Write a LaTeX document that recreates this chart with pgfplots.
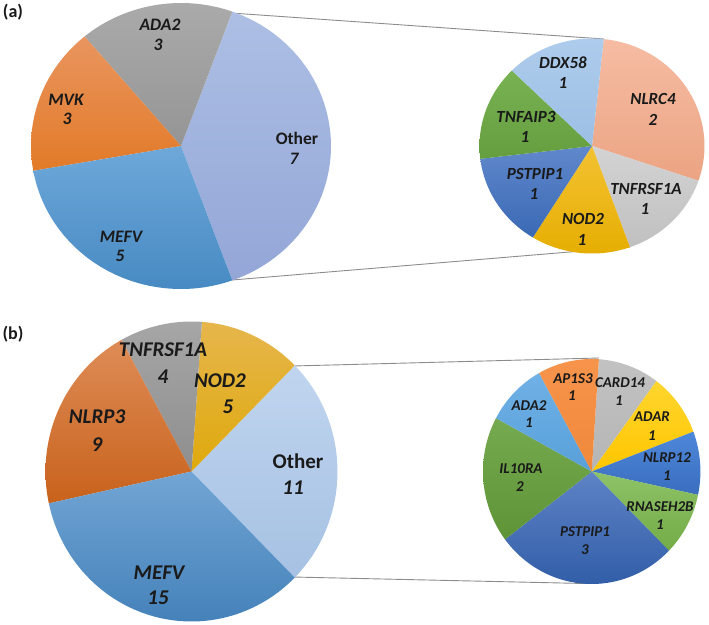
\documentclass[border=0pt]{standalone}
\usepackage{pgfplots}
\pgfplotsset{compat=1.18}
\usepackage{fontspec}
\setmainfont{Carlito}
\definecolor{txt}{HTML}{1A1A1A}
\definecolor{conn}{HTML}{8C8C8C}
% helper: define top/bottom colour pair
\newcommand{\cpair}[3]{\definecolor{#1t}{HTML}{#2}\definecolor{#1b}{HTML}{#3}}
\cpair{aOther}{ADBFE4}{93A6D7}
\cpair{aADA}{AAAAAA}{959595}
\cpair{aMVK}{E9955F}{E27A28}
\cpair{aMEFV}{6EA8D9}{478AC3}
\cpair{sNLRC}{F6BCA3}{EBA483}
\cpair{sTNFR}{D3D3D3}{C0C0C0}
\cpair{sNOD}{F3C233}{E6AE02}
\cpair{sPST}{6088CC}{3A69B4}
\cpair{sTNFA}{79B252}{649E3E}
\cpair{sDDX}{AECCEC}{9CBFE4}
\cpair{bOther}{C0D5EF}{A6C1E3}
\cpair{bNOD}{E6B64C}{DFA90C}
\cpair{bTNFR}{A6A6A6}{8E8E8E}
\cpair{bNLRP}{DE8C57}{C8621C}
\cpair{bMEFV}{72A5D4}{4582BA}
\cpair{tCARD}{C2C2C2}{B5B5B5}
\cpair{tADAR}{FFD52E}{FFC600}
\cpair{tNLRP}{4E88DA}{3A6DBE}
\cpair{tRNAS}{8EC267}{73AC47}
\cpair{tPST}{5E83C6}{325EA8}
\cpair{tIL}{76AA50}{5E9336}
\cpair{tADA}{70B1E6}{58A0DA}
\cpair{tAP}{F7944C}{EF883A}
% slice: start angle, end angle, colour name
\newcommand{\slice}[3]{\addplot[draw=none, top color=#3t, bottom color=#3b, domain=#1:#2, samples=60, variable=\t] ({cos(\t)},{sin(\t)}) -- (axis cs:0,0) -- cycle;}
\pgfplotsset{pie/.style={hide axis, clip=false, xmin=-1, xmax=1, ymin=-1, ymax=1, anchor=center}}
\newcommand{\lab}[4]{\node[text=txt, font={\fontsize{#4}{#4}\selectfont\bfseries\itshape}, inner sep=0pt] at (#1bp,-#2bp) {#3};}
\newcommand{\labu}[4]{\node[text=txt, font={\fontsize{#4}{#4}\selectfont\bfseries}, inner sep=0pt] at (#1bp,-#2bp) {#3};}
\begin{document}
\begin{tikzpicture}
\useasboundingbox (0,0) rectangle (709bp,-625bp);
% connectors
\draw[conn, line width=0.9bp] (231bp,-13bp) -- (603.8bp,-39bp);
\draw[conn, line width=0.9bp] (232bp,-280bp) -- (630bp,-247bp);
\draw[conn, line width=0.9bp] (293bp,-366bp) -- (599bp,-358bp);
\draw[conn, line width=0.9bp] (293bp,-577bp) -- (584.5bp,-583.5bp);

% (a) main pie: MEFV 5, MVK 3, ADA2 3, Other 7  (total 18)
\begin{axis}[pie, x=150bp, y=143bp, at={(181bp,-146bp)}]
\slice{-70}{70}{aOther}
\slice{70}{130}{aADA}
\slice{130}{190}{aMVK}
\slice{190}{290}{aMEFV}
\end{axis}
% (a) secondary pie: NLRC4 2, TNFRSF1A 1, NOD2 1, PSTPIP1 1, TNFAIP3 1, DDX58 1 (total 7), rotated -6 deg
\begin{axis}[pie, x=112.5bp, y=107.5bp, at={(592bp,-146bp)}]
\slice{-18.857}{84}{sNLRC}
\slice{-70.286}{-18.857}{sTNFR}
\slice{-121.714}{-70.286}{sNOD}
\slice{-173.143}{-121.714}{sPST}
\slice{135.429}{186.857}{sTNFA}
\slice{84}{135.429}{sDDX}
\end{axis}

% (b) main pie: MEFV 15, NLRP3 9, TNFRSF1A 4, NOD2 5, Other 11 (total 44)
\begin{axis}[pie, x=146bp, y=150bp, at={(191.5bp,-471.5bp)}]
\slice{-45}{45}{bOther}
\slice{45}{85.909}{bNOD}
\slice{85.909}{118.636}{bTNFR}
\slice{118.636}{192.273}{bNLRP}
\slice{192.273}{315}{bMEFV}
\end{axis}
% (b) secondary pie: CARD14, ADAR, NLRP12, RNASEH2B, PSTPIP1 3, IL10RA 2, ADA2, AP1S3 (total 11), rotated -3.8 deg
\begin{axis}[pie, x=108.7bp, y=112.5bp, at={(591.7bp,-471.5bp)}]
\slice{53.473}{86.2}{tCARD}
\slice{20.745}{53.473}{tADAR}
\slice{-11.982}{20.745}{tNLRP}
\slice{-44.709}{-11.982}{tRNAS}
\slice{-142.891}{-44.709}{tPST}
\slice{151.655}{217.109}{tIL}
\slice{118.927}{151.655}{tADA}
\slice{86.2}{118.927}{tAP}
\end{axis}

% panel letters
\node[text=txt, font={\fontsize{18bp}{18bp}\selectfont\bfseries}, inner sep=0pt] at (13bp,-12bp) {(a)};
\node[text=txt, font={\fontsize{18bp}{18bp}\selectfont\bfseries}, inner sep=0pt] at (13bp,-334bp) {(b)};

% (a) labels
\lab{160}{25}{ADA2}{17.5bp}  \lab{158}{45}{3}{17.5bp}
\lab{66}{100}{MVK}{17.5bp}   \lab{67}{119}{3}{17.5bp}
\lab{121}{237}{MEFV}{17.5bp} \lab{120}{256}{5}{17.5bp}
\labu{297}{138}{Other}{17.5bp} \lab{294}{159}{7}{17.5bp}
\lab{563}{63}{DDX58}{17bp}   \lab{563}{83}{1}{17bp}
\lab{653}{99}{NLRC4}{17bp}   \lab{653}{120}{2}{17bp}
\lab{526}{117}{TNFAIP3}{17bp} \lab{525}{137}{1}{17bp}
\lab{535}{174}{PSTPIP1}{17bp} \lab{534}{194}{1}{17bp}
\lab{646}{189}{TNFRSF1A}{17bp} \lab{645}{209}{1}{17bp}
\lab{583}{219}{NOD2}{17bp}   \lab{582}{240}{1}{17bp}

% (b) labels
\lab{163}{350}{TNFRSF1A}{21bp} \lab{163}{377}{4}{21bp}
\lab{220}{381}{NOD2}{21bp}     \lab{228}{407}{5}{21bp}
\lab{97}{417}{NLRP3}{21bp}     \lab{97}{445}{9}{21bp}
\labu{298}{461}{Other}{21bp}   \lab{293}{488}{11}{21bp}
\lab{159}{573}{MEFV}{21bp}     \lab{158}{598}{15}{21bp}
\lab{573}{379}{AP1S3}{15bp}    \lab{572}{396}{1}{15bp}
\lab{620}{383}{CARD14}{15bp}   \lab{619}{401}{1}{15bp}
\lab{652}{417}{ADAR}{15bp}     \lab{652}{436}{1}{15bp}
\lab{667}{458}{NLRP12}{15bp}   \lab{667}{476}{1}{15bp}
\lab{660}{507}{RNASEH2B}{15bp} \lab{660}{525}{1}{15bp}
\lab{585}{532}{PSTPIP1}{15bp}  \lab{585}{550}{3}{15bp}
\lab{521}{469}{IL10RA}{15bp}   \lab{520}{487}{2}{15bp}
\lab{529}{406}{ADA2}{15bp}     \lab{529}{423}{1}{15bp}
\end{tikzpicture}
\end{document}
